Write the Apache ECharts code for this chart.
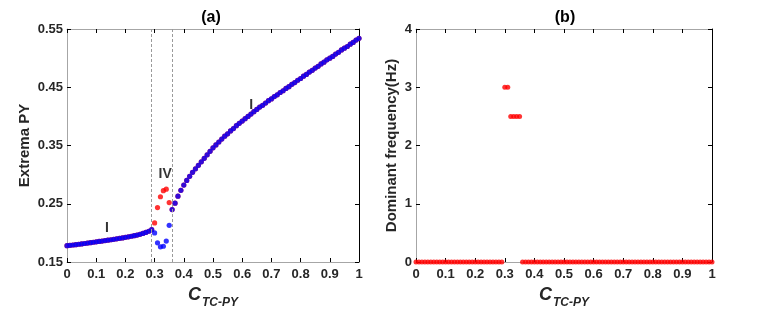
<!DOCTYPE html>
<html><head><meta charset="utf-8">
<script src="https://cdn.jsdelivr.net/npm/echarts@6/dist/echarts.min.js"></script>
<style>html,body{margin:0;padding:0;background:#fff}#c{width:766px;height:322px}</style>
</head><body><div id="c"></div>
<script>
// ---------- DATA ----------
const xValues = [0,0.01,0.02,0.03,0.04,0.05,0.06,0.07,0.08,0.09,
0.1,0.11,0.12,0.13,0.14,0.15,0.16,0.17,0.18,0.19,
0.2,0.21,0.22,0.23,0.24,0.25,0.26,0.27,0.28,0.29,
0.3,0.31,0.32,0.33,0.34,0.35,0.36,0.37,0.38,0.39,
0.4,0.41,0.42,0.43,0.44,0.45,0.46,0.47,0.48,0.49,
0.5,0.51,0.52,0.53,0.54,0.55,0.56,0.57,0.58,0.59,
0.6,0.61,0.62,0.63,0.64,0.65,0.66,0.67,0.68,0.69,
0.7,0.71,0.72,0.73,0.74,0.75,0.76,0.77,0.78,0.79,
0.8,0.81,0.82,0.83,0.84,0.85,0.86,0.87,0.88,0.89,
0.9,0.91,0.92,0.93,0.94,0.95,0.96,0.97,0.98,0.99,1];

// Extrema PY: maxima (red) and minima (blue)
const pyMinima = [0.1780,0.1786,0.1792,0.1798,0.1805,0.1811,0.1818,0.1825,0.1832,0.1839,
0.1846,0.1853,0.1860,0.1867,0.1874,0.1882,0.1890,0.1898,0.1906,0.1914,
0.1923,0.1932,0.1942,0.1952,0.1963,0.1975,0.1990,0.2007,0.2028,0.2055,
0.200,0.183,0.176,0.177,0.186,0.213,
0.240,0.251,0.263,0.273,0.282,0.290,0.297,0.304,0.310,0.316,0.322,0.328,
0.334,0.340,0.346,0.351,0.356,0.361,0.366,0.370,0.375,0.379,0.384,0.388,
0.392,0.396,0.400,0.404,0.408,0.412,0.416,0.419,0.423,0.427,
0.430,0.434,0.437,0.441,0.444,0.448,0.451,0.455,0.458,0.462,
0.465,0.469,0.472,0.476,0.479,0.483,0.486,0.490,0.493,0.497,
0.500,0.503,0.507,0.510,0.514,0.517,0.520,0.524,0.527,0.531,0.534];

const pyMaxima = [0.1780,0.1786,0.1792,0.1798,0.1805,0.1811,0.1818,0.1825,0.1832,0.1839,
0.1846,0.1853,0.1860,0.1867,0.1874,0.1882,0.1890,0.1898,0.1906,0.1914,
0.1923,0.1932,0.1942,0.1952,0.1963,0.1975,0.1990,0.2007,0.2028,0.2055,
0.217,0.2435,0.262,0.2725,0.275,0.252,
0.240,0.251,0.263,0.273,0.282,0.290,0.297,0.304,0.310,0.316,0.322,0.328,
0.334,0.340,0.346,0.351,0.356,0.361,0.366,0.370,0.375,0.379,0.384,0.388,
0.392,0.396,0.400,0.404,0.408,0.412,0.416,0.419,0.423,0.427,
0.430,0.434,0.437,0.441,0.444,0.448,0.451,0.455,0.458,0.462,
0.465,0.469,0.472,0.476,0.479,0.483,0.486,0.490,0.493,0.497,
0.500,0.503,0.507,0.510,0.514,0.517,0.520,0.524,0.527,0.531,0.534];

// Dominant frequency (Hz)
const domFreq = [0,0,0,0,0,0,0,0,0,0,
0,0,0,0,0,0,0,0,0,0,
0,0,0,0,0,0,0,0,0,0,
3,3,2.5,2.5,2.5,2.5,
0,0,0,0,0,0,0,0,0,0,0,0,0,0,
0,0,0,0,0,0,0,0,0,0,0,0,0,0,0,
0,0,0,0,0,0,0,0,0,0,0,0,0,0,0,
0,0,0,0,0,0,0,0,0,0,0,0,0,0,0,
0,0,0,0,0,0,0,0,0,0,0,0,0,0,0];

const xTicks = [0,0.1,0.2,0.3,0.4,0.5,0.6,0.7,0.8,0.9,1];
const yTicksA = [0.15,0.25,0.35,0.45,0.55];
const yTicksB = [0,1,2,3,4];
const regionBounds = [0.294, 0.365];
const regionLabels = [
  {name:'I', x:0.137, y:0.2076},
  {name:'IV', x:0.336, y:0.3016},
  {name:'I', x:0.631, y:0.4196}
];
const titles = ['(a)','(b)'];
const yNames = ['Extrema PY','Dominant frequency(Hz)'];

// ---------- CHART ----------
const FONT = '"Liberation Sans", Arial, sans-serif';
const TXT = '#262626';
const GRAY = '#a6a6a6';
const chart = echarts.init(document.getElementById('c'), null, {renderer:'canvas'});
const pair = (ys) => xValues.map((x,i)=>[x, ys[i]]);

const xName = {
  name: '{c|C}{s|TC-PY}',
  nameLocation: 'middle',
  nameGap: 17,
  nameTextStyle: {
    rich: {
      c: {fontSize: 18, fontWeight: 'bold', fontStyle: 'italic', fontFamily: FONT, color: TXT},
      s: {fontSize: 12, fontWeight: 'bold', fontStyle: 'italic', fontFamily: FONT, color: TXT, padding: [16,0,0,1]}
    }
  }
};

function bottomX(gi){
  return Object.assign({
    type:'value', gridIndex: gi, min:0, max:1, interval:0.1, position:'bottom',
    axisLine:{show:true, onZero:false, lineStyle:{color:GRAY, width:1}},
    axisTick:{show:true, inside:true, length:4, lineStyle:{color:'#000'}, customValues: xTicks},
    axisLabel:{fontFamily:FONT, fontWeight:'bold', fontSize:13, color:TXT, margin:6, customValues: xTicks},
    splitLine:{show:false}
  }, xName);
}
function topX(gi){
  return {
    type:'value', gridIndex: gi, min:0, max:1, interval:0.1, position:'top',
    axisLine:{show:true, onZero:false, lineStyle:{color:GRAY, width:1}},
    axisTick:{show:true, inside:true, length:4, lineStyle:{color:'#000'}, customValues: xTicks},
    axisLabel:{show:false}, splitLine:{show:false}
  };
}
function leftY(gi, min, max, interval, ticks, name, gap){
  return {
    type:'value', gridIndex: gi, min, max, interval, position:'left',
    name, nameLocation:'middle', nameGap: gap,
    nameTextStyle:{fontFamily:FONT, fontWeight:'bold', fontSize:15, color:TXT},
    axisLine:{show:true, onZero:false, lineStyle:{color:GRAY, width:1}},
    axisTick:{show:true, inside:true, length:4, lineStyle:{color:'#000'}, customValues: ticks},
    axisLabel:{fontFamily:FONT, fontWeight:'bold', fontSize:13, color:TXT, margin:4, customValues: ticks},
    splitLine:{show:false}
  };
}
function rightY(gi, min, max, interval, ticks){
  return {
    type:'value', gridIndex: gi, min, max, interval, position:'right',
    axisLine:{show:true, onZero:false, lineStyle:{color:'#000', width:1}},
    axisTick:{show:true, inside:true, length:4, lineStyle:{color:'#000'}, customValues: ticks},
    axisLabel:{show:false, customValues: ticks}, splitLine:{show:false}
  };
}

const option = {
  animation:false,
  backgroundColor:'#fff',
  title: [
    {text: titles[0], left: 206, top: 5, textAlign:'center', textStyle:{fontFamily:FONT, fontWeight:'bold', fontSize:16, color:'#000'}},
    {text: titles[1], left: 560, top: 5, textAlign:'center', textStyle:{fontFamily:FONT, fontWeight:'bold', fontSize:16, color:'#000'}}
  ],
  grid: [
    {left:67, top:29, width:292, bottom:60},
    {left:416, top:29, width:296, bottom:60}
  ],
  xAxis: [bottomX(0), topX(0), bottomX(1), topX(1)],
  yAxis: [
    leftY(0, 0.15, 0.55, 0.05, yTicksA, yNames[0], 35),
    rightY(0, 0.15, 0.55, 0.05, yTicksA),
    leftY(1, 0, 4, 1, yTicksB, yNames[1], 17),
    rightY(1, 0, 4, 1, yTicksB)
  ],
  series: [
    {type:'scatter', xAxisIndex:0, yAxisIndex:0, data: pair(pyMaxima), symbolSize:5.2,
     itemStyle:{color:'#ff0000'}, z:2,
     markLine:{silent:true, symbol:'none', label:{show:false},
       lineStyle:{color:'#9a9a9a', type:[3,2], width:1},
       data: regionBounds.map(v=>({xAxis:v}))}},
    {type:'scatter', xAxisIndex:0, yAxisIndex:0, data: pair(pyMinima), symbolSize:5.2,
     itemStyle:{color:'#0000ff'}, z:3},
    {type:'scatter', xAxisIndex:0, yAxisIndex:0, symbolSize:0, z:4,
     data: regionLabels.map(d=>({value:[d.x,d.y], name:d.name})),
     label:{show:true, position:'inside', formatter:'{b}', fontFamily:FONT, fontWeight:'bold', fontSize:14, color:'#000'}},
    {type:'scatter', xAxisIndex:2, yAxisIndex:2, data: pair(domFreq), symbolSize:5,
     itemStyle:{color:'#ff0000'}, z:3}
  ]
};
chart.setOption(option);
</script></body></html>
